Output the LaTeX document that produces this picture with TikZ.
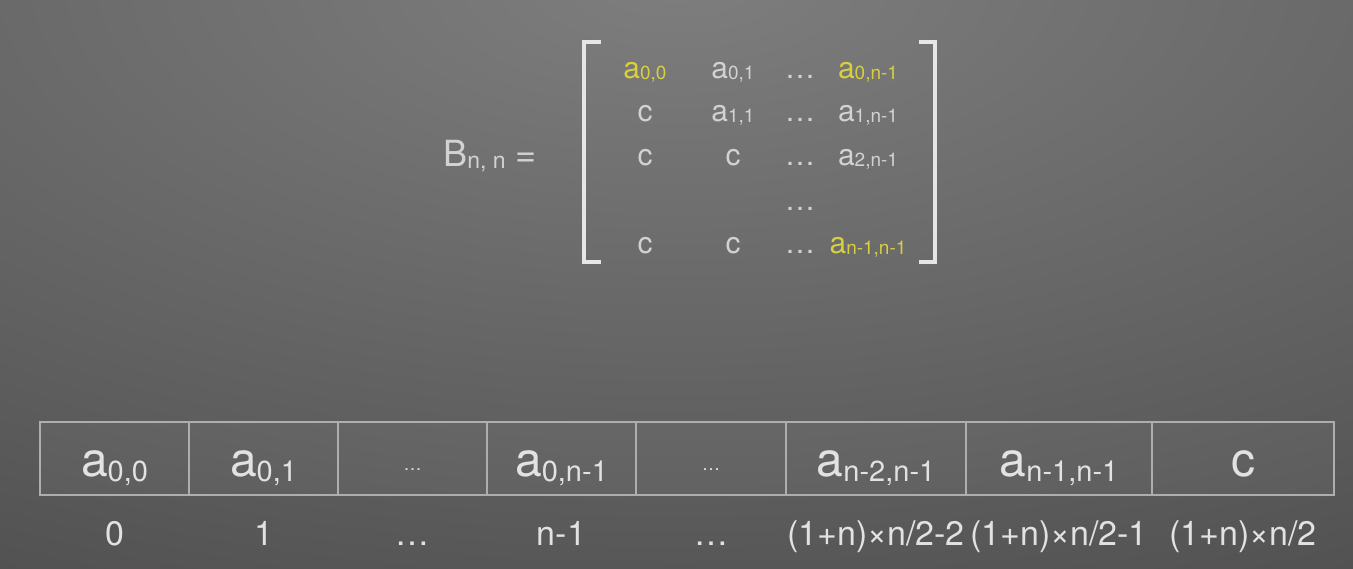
\documentclass[tikz,border=0pt]{standalone}
\usepackage{fontspec}
\setmainfont{TeX Gyre Heros}
\definecolor{bgin}{HTML}{7E7E7E}
\definecolor{bgout}{HTML}{282828}
\definecolor{celltxt}{HTML}{E2E2E2}
\definecolor{cellline}{HTML}{AEAEAE}
\definecolor{mattxt}{HTML}{D2D2D2}
\definecolor{matyel}{HTML}{D8CF3E}
\definecolor{brk}{HTML}{E6E6E6}
\newcommand\cellsub[1]{\raisebox{-5pt}{\fontsize{29}{29}\selectfont #1}}
\newcommand\matsub[1]{\raisebox{-1pt}{\fontsize{19}{19}\selectfont #1}}
\newcommand\bsub[1]{\raisebox{-2pt}{\fontsize{23}{23}\selectfont #1}}
\newcommand\celldots{\raisebox{6pt}{\fontsize{18}{18}\selectfont …}}
\tikzset{
  cell/.style={draw=cellline, line width=2pt, fill=white, fill opacity=0.04, text opacity=1,
    minimum height=73pt, inner sep=0pt,
    text height=40pt, text depth=5pt, font=\fontsize{48}{48}\selectfont, text=celltxt},
  idx/.style={anchor=base, inner sep=0pt, font=\fontsize{34}{34}\selectfont, text=celltxt},
  ment/.style={anchor=base, inner sep=0pt, font=\fontsize{30}{30}\selectfont, text=mattxt},
  myel/.style={ment, text=matyel},
  bracket/.style={draw=brk, line width=4pt}
}
\begin{document}
\begin{tikzpicture}[x=1pt,y=-1pt]
\useasboundingbox (0,0) rectangle (1353,568);
\begin{scope}
\clip (0,0) rectangle (1353,568);
\shade[inner color=bgin, outer color=bgout] (676,-20) ellipse (2846 and 1300);
\end{scope}
% matrix
\node[anchor=base, inner sep=0pt, font=\fontsize{36}{36}\selectfont, text=mattxt] (B) at (490,166) {B\bsub{n, n} =};
\node[myel] (m11) at (645,78) {a\matsub{0,0}};
\node[ment] (m12) at (733,78) {a\matsub{0,1}};
\node[ment] (m13) at (800,78) {…};
\node[myel] (m14) at (868,78) {a\matsub{0,n-1}};
\node[ment] (m21) at (645,121) {c};
\node[ment] (m22) at (733,121) {a\matsub{1,1}};
\node[ment] (m23) at (800,121) {…};
\node[ment] (m24) at (868,121) {a\matsub{1,n-1}};
\node[ment] (m31) at (645,165) {c};
\node[ment] (m32) at (733,165) {c};
\node[ment] (m33) at (800,165) {…};
\node[ment] (m34) at (868,165) {a\matsub{2,n-1}};
\node[ment] (m43) at (800,210) {…};
\node[ment] (m51) at (645,253) {c};
\node[ment] (m52) at (733,253) {c};
\node[ment] (m53) at (800,253) {…};
\node[myel] (m54) at (868,253) {a\matsub{n-1,n-1}};
\draw[bracket] (601,42) -- (584,42) -- (584,262) -- (601,262);
\draw[bracket] (919,42) -- (935,42) -- (935,262) -- (919,262);
% array
\node[cell, minimum width=149pt] (c1) at (114.5,458.5) {a\cellsub{0,0}};
\node[cell, minimum width=149pt] (c2) at (263.5,458.5) {a\cellsub{0,1}};
\node[cell, minimum width=149pt] (c3) at (412.5,458.5) {\celldots};
\node[cell, minimum width=149pt] (c4) at (561.5,458.5) {a\cellsub{0,n-1}};
\node[cell, minimum width=150pt] (c5) at (711,458.5) {\celldots};
\node[cell, minimum width=180pt] (c6) at (876,458.5) {a\cellsub{n-2,n-1}};
\node[cell, minimum width=186pt] (c7) at (1059,458.5) {a\cellsub{n-1,n-1}};
\node[cell, minimum width=182pt] (c8) at (1243,458.5) {c};
% indices
\node[idx] (i1) at (c1.center |- 0,545) {0};
\node[idx] (i2) at (c2.center |- 0,545) {1};
\node[idx] (i3) at (c3.center |- 0,545) {…};
\node[idx] (i4) at (c4.center |- 0,545) {n-1};
\node[idx] (i5) at (c5.center |- 0,545) {…};
\node[idx] (i6) at (c6.center |- 0,545) {(1+n)×n/2-2};
\node[idx] (i7) at (c7.center |- 0,545) {(1+n)×n/2-1};
\node[idx] (i8) at (c8.center |- 0,545) {(1+n)×n/2};
\end{tikzpicture}
\end{document}
